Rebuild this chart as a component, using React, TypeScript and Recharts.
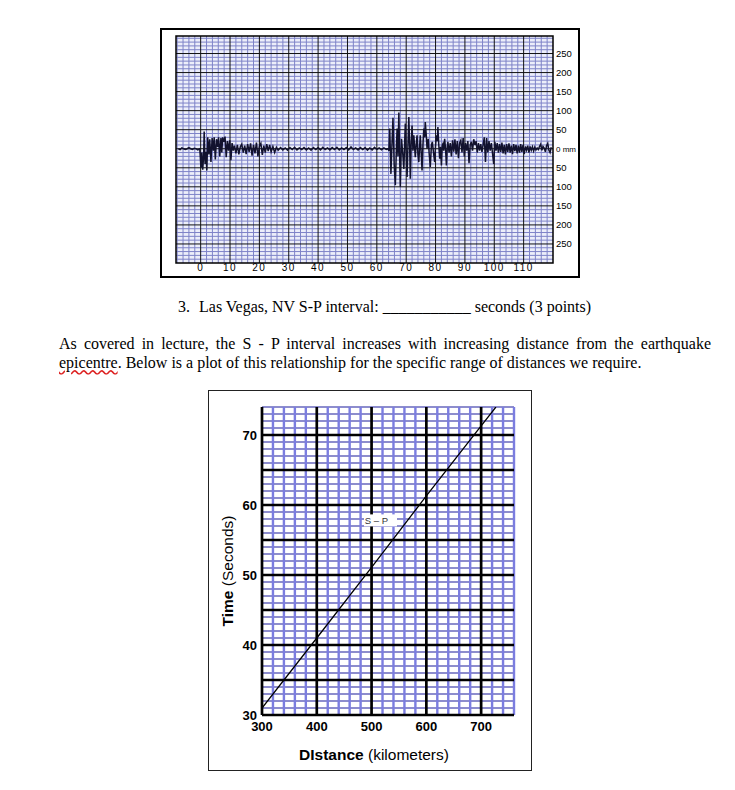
import React from 'react'
import { Label, Line, LineChart, ReferenceArea, ReferenceDot, ReferenceLine, XAxis, YAxis } from 'recharts'

// seismogram trace, [time (s), amplitude (mm)]
const preEvent = [
  [-7.6, 0], [-7.0, -2], [-6.4, 2], [-5.8, 0], [-5.2, -2], [-4.6, 0], [-4.0, 3], [-3.4, 0],
  [-2.8, -2], [-2.2, 1], [-1.6, 0], [-1.0, -3], [-0.3, 0],
]
const pWave = [
  [0.1, -50], [0.4, -10], [0.7, -55], [1.0, -20], [1.2, 45], [1.5, -40], [1.8, -8], [2.1, -57],
  [2.4, 30], [2.8, -15], [3.1, 25], [3.5, -35], [3.9, 28], [4.3, -5], [4.6, 30], [5.0, -28],
  [5.4, 25], [5.8, 5], [6.1, 30], [6.5, -20], [6.9, 28], [7.2, -10], [7.5, 30], [7.9, 18],
  [8.3, 32], [8.7, -22], [9.1, 20], [9.5, -5], [9.9, 22], [10.3, -30], [10.7, 15], [11.1, -5],
]
const pCoda = [
  [11.5, 8], [12.0, -12], [12.5, 10], [13.0, -15], [13.5, 5], [14.0, 12], [14.5, -10], [15.0, 8],
  [15.5, -14], [16.0, 12], [16.5, -8], [17.0, 14], [17.5, -18], [18.0, 10], [18.5, -12], [19.0, 16],
  [19.5, -20], [20.0, 6], [20.5, 14], [21.0, -16], [21.5, 8], [22.0, -10], [22.5, 12], [23.0, -6],
  [23.5, 10], [24.0, -8], [24.6, 6], [25.2, -10], [25.8, 4], [26.4, -4],
]
const quiet = [
  [27.2, 3], [28.0, -3], [28.8, 2], [29.6, -4], [30.4, 3], [31.2, -2], [32.0, 4], [32.8, -3],
  [33.6, 2], [34.4, -2], [35.2, 3], [36.0, -3], [36.8, 2], [37.6, -4], [38.4, 3], [39.2, -2],
  [40.0, 3], [40.8, -3], [41.6, 4], [42.4, -2], [43.2, 2], [44.0, -3], [44.8, 3], [45.6, -2],
  [46.4, 4], [47.2, -3], [48.0, 2], [48.8, -2], [49.6, 3], [50.4, -3], [51.2, 5], [52.0, -2],
  [52.8, 2], [53.6, -3], [54.4, 3], [55.2, -2], [56.0, 3], [56.8, -4], [57.6, 2], [58.4, -3],
  [59.2, 4], [60.0, -2], [60.8, 2], [61.6, -3], [62.4, 2], [63.2, -2], [63.8, 0],
]
const sWave = [
  [64.1, -5], [64.4, 53], [64.8, -66], [65.2, 20], [65.5, 81], [65.9, -40], [66.3, -96], [66.7, 10],
  [66.9, 53], [67.2, -20], [67.5, 95], [67.8, -30], [68.0, -100], [68.4, 26], [68.8, -10], [69.2, -53],
  [69.5, 20], [69.7, 66], [70.0, -10], [70.3, -74], [70.6, 10], [70.9, 83], [71.2, 0], [71.4, -79],
  [71.7, 15], [72.0, 61], [72.3, -5], [72.6, 35], [72.9, 0], [73.1, -22], [73.4, 10], [73.7, 35],
  [74.0, -15], [74.3, -35], [74.6, 10], [74.8, 35], [75.1, -10], [75.4, -57], [75.7, 10], [76.0, 53],
  [76.3, 30], [76.5, 70], [76.8, 40], [77.1, 0], [77.5, 26], [77.8, -10], [78.2, -48], [78.6, 10],
  [78.9, 18], [79.3, -10], [79.7, -35], [80.0, 10], [80.3, 35], [80.6, 20], [80.8, 57], [81.1, 10],
  [81.4, -26], [81.7, 5], [82.0, -44], [82.3, 10], [82.5, 13], [82.8, -5], [83.1, 26], [83.4, 0],
  [83.7, -44], [84.0, 5], [84.2, 18],
]
const surfaceWaves = [
  [84.6, -10], [85.0, 15], [85.4, -20], [85.8, 22], [86.2, -8], [86.6, 25], [87.0, -15], [87.4, 20],
  [87.8, -25], [88.2, 15], [88.6, 22], [89.0, -10], [89.4, 28], [89.8, -20], [90.2, 15], [90.6, -5],
  [91.0, 20], [91.4, -38], [91.8, 10], [92.2, 18], [92.6, -5], [93.0, 25], [93.4, 10], [93.8, 20],
  [94.2, -10], [94.6, 15], [95.0, -5], [95.4, 12], [95.8, -8], [96.2, 10], [96.6, 30], [97.0, -35],
  [97.4, 28], [97.8, -10], [98.2, 20], [98.6, -5], [99.0, 15], [99.4, -12], [99.8, -40], [100.2, 18],
  [100.6, -5], [101.0, 15], [101.4, -10], [101.8, 12], [102.2, -8], [102.6, 16], [103.0, -12], [103.4, 10],
  [103.8, -15], [104.2, 12], [104.6, -8], [105.0, 14], [105.4, -10], [105.8, 8], [106.2, -14], [106.6, 12],
  [107.0, -6], [107.4, 10], [107.8, -12], [108.2, 8], [108.6, -10], [109.0, 12], [109.4, -8], [109.8, 10],
  [110.2, -14], [110.6, 6], [111.0, -4], [111.4, 8], [111.8, -10], [112.2, 6], [112.6, -4], [113.0, 5],
  [113.4, -6], [113.8, 4], [114.2, -3], [114.6, 2], [115.0, -2], [115.4, 6], [115.8, 12], [116.2, -4],
  [116.6, 6], [117.0, 2], [117.4, -8], [117.8, 8], [118.2, 14], [118.6, -4], [119.0, -10], [119.4, 4],
]
const seismoTimeTicks = [0, 10, 20, 30, 40, 50, 60, 70, 80, 90, 100, 110]
const seismoAmpTicks = [250, 200, 150, 100, 50, 0, -50, -100, -150, -200, -250]

// S-P interval vs distance
const spDistance = [300, 400, 500, 600, 700, 727]
const spTime = [31, 41, 51.1, 61.3, 71.3, 74]
const distanceTicks = [300, 400, 500, 600, 700]
const timeTicks = [30, 40, 50, 60, 70]

const seismoTrace = [...preEvent, ...pWave, ...pCoda, ...quiet, ...sWave, ...surfaceWaves].map(([t, amp]) => ({ t, amp }))
const spCurve = spDistance.map((d, i) => ({ distance: d, time: spTime[i] }))

const range = (from: number, to: number, step: number) => {
  const out: number[] = []
  for (let v = from; v <= to + 1e-9; v += step) out.push(Math.round(v * 100) / 100)
  return out
}

const SANS = '"Liberation Sans", Arial, sans-serif'
const SERIF = '"Liberation Serif", "Times New Roman", serif'

const AmpTick = ({ x, y, payload }: any) => (
  <text x={x} y={y} dy="0.35em" textAnchor="start" fontFamily={SANS} fontSize={payload.value === 0 ? 8 : 9.5} fill="#000" style={{ whiteSpace: 'pre' }}>
    {payload.value === 0 ? '0 mm' : String(Math.abs(payload.value))}
  </text>
)

const Seismogram = () => {
  const minorX = range(-8, 118, 2).filter(v => v % 10 !== 0)
  const minorY = range(-300, 290, 10).filter(v => v % 50 !== 0)
  const majorY = range(-250, 250, 50)
  return (
    <div style={{ position: 'absolute', left: 160, top: 28, width: 420, height: 250, background: '#fff' }}>
      <LineChart width={420} height={250} data={seismoTrace} margin={{ top: 8, right: 2, bottom: 2, left: 16 }}>
        <XAxis type="number" dataKey="t" domain={[-8.4, 120]} allowDataOverflow ticks={seismoTimeTicks} interval={0}
          tickLine={false} axisLine={false} tickSize={0} tickMargin={1} height={13}
          tick={{ fontSize: 10, fill: '#000', fontFamily: SANS, letterSpacing: 1.5 }} />
        <YAxis type="number" orientation="right" domain={[-300, 296]} allowDataOverflow ticks={seismoAmpTicks} interval={0}
          width={25} tickLine={false} axisLine={false} tickSize={0} tickMargin={3} tick={AmpTick} />
        <ReferenceArea x1={-8.4} x2={120} y1={-300} y2={296} fill="#eceefa" fillOpacity={1} stroke="none" zIndex={-20} />
        {minorX.map(v => <ReferenceLine key={'mx' + v} x={v} stroke="#7e83c8" strokeWidth={1} zIndex={-10} />)}
        {minorY.map(v => <ReferenceLine key={'my' + v} y={v} stroke="#7e83c8" strokeWidth={1} zIndex={-10} />)}
        {seismoTimeTicks.map(v => <ReferenceLine key={'Mx' + v} x={v} stroke="#111" strokeWidth={1} zIndex={-5} />)}
        {majorY.map(v => <ReferenceLine key={'My' + v} y={v} stroke="#111" strokeWidth={1} zIndex={-5} />)}
        <ReferenceArea x1={-8.4} x2={120} y1={-300} y2={296} fill="none" stroke="#000" strokeWidth={1.5} zIndex={-4} />
        <Line type="linear" dataKey="amp" stroke="#12122e" strokeWidth={1.5} dot={false} isAnimationActive={false} />
      </LineChart>
      <div style={{ position: 'absolute', inset: 0, border: '2px solid #000', boxSizing: 'border-box', pointerEvents: 'none' }} />
    </div>
  )
}

const TimeTitle = ({ viewBox }: any) => (
  <text x={viewBox.x + 25} y={viewBox.y + viewBox.height / 2 + 10} transform={`rotate(-90 ${viewBox.x + 25} ${viewBox.y + viewBox.height / 2 + 10})`}
    textAnchor="middle" fontFamily={SANS} fontSize={15.5} fill="#000">
    <tspan fontWeight="bold">Time</tspan> (Seconds)
  </text>
)

const DistanceTitle = ({ viewBox }: any) => (
  <text x={viewBox.x + viewBox.width / 2 - 14} y={viewBox.y + viewBox.height + 25} textAnchor="middle" fontFamily={SANS} fontSize={15.5} fill="#000">
    <tspan fontWeight="bold">DIstance</tspan> (kilometers)
  </text>
)

const SPTag = ({ cx, cy }: any) => (
  <g>
    <rect x={cx - 12.5} y={cy - 6} width={33} height={12} fill="#fff" />
    <text x={cx} y={cy} textAnchor="middle" dominantBaseline="central" fontFamily={SANS} fontSize={9.5} fill="#333">S – P</text>
  </g>
)

const SPChart = () => {
  const minorX = range(320, 760, 20).filter(v => v % 100 !== 0)
  const minorY = range(31, 74, 1).filter(v => v % 5 !== 0)
  const majorY = range(30, 70, 5)
  return (
    <div style={{ position: 'absolute', left: 208, top: 390, width: 324, height: 381, background: '#fff' }}>
      <LineChart width={324} height={381} data={spCurve} margin={{ top: 17, right: 18, bottom: 36, left: 0 }}>
        <XAxis type="number" dataKey="distance" domain={[300, 760]} allowDataOverflow ticks={distanceTicks} interval={0}
          tickLine={false} axisLine={false} tickSize={0} tickMargin={7} height={20}
          tick={{ fontSize: 13, fontWeight: 'bold', fill: '#000', fontFamily: SANS }}>
          <Label content={DistanceTitle} />
        </XAxis>
        <YAxis type="number" domain={[30, 74]} allowDataOverflow ticks={timeTicks} interval={0}
          width={54} tickLine={false} axisLine={false} tickSize={0} tickMargin={5}
          tick={{ fontSize: 13, fontWeight: 'bold', fill: '#000', fontFamily: SANS }}>
          <Label content={TimeTitle} />
        </YAxis>
        {minorY.map(v => <ReferenceLine key={'my' + v} y={v} stroke="#6767bd" strokeWidth={1.5} zIndex={-10} />)}
        {minorX.map(v => <ReferenceLine key={'mx' + v} x={v} stroke="#7b7de0" strokeWidth={2.4} zIndex={-10} />)}
        {majorY.map(v => <ReferenceLine key={'My' + v} y={v} stroke="#000" strokeWidth={2.7} zIndex={-5} />)}
        {distanceTicks.map(v => <ReferenceLine key={'Mx' + v} x={v} stroke="#000" strokeWidth={2.7} zIndex={-5} />)}
        <Line type="linear" dataKey="time" stroke="#000" strokeWidth={1.3} dot={false} isAnimationActive={false} />
        <ReferenceDot x={509} y={57.8} r={0} shape={SPTag} zIndex={900} />
      </LineChart>
      <div style={{ position: 'absolute', inset: 0, border: '1px solid #222', boxSizing: 'border-box', pointerEvents: 'none' }} />
    </div>
  )
}

export default function App() {
  return (
    <div style={{ position: 'absolute', left: 0, top: 0, width: 735, height: 790, background: '#fff', fontFamily: SERIF, color: '#000' }}>
      <Seismogram />
      <div style={{ position: 'absolute', left: 178, top: 298, fontSize: 16, lineHeight: '18px', whiteSpace: 'nowrap' }}>3.</div>
      <div style={{ position: 'absolute', left: 199, top: 298, fontSize: 16, lineHeight: '18px', whiteSpace: 'nowrap' }}>
        Las Vegas, NV S-P interval: ___________ seconds (3 points)
      </div>
      <div style={{ position: 'absolute', left: 59, top: 334, width: 652, fontSize: 16, lineHeight: '19px', textAlign: 'justify' }}>
        As covered in lecture, the S - P interval increases with increasing distance from the earthquake{' '}
        <span style={{ textDecorationLine: 'underline', textDecorationStyle: 'wavy', textDecorationColor: '#d22' }}>epicentre</span>. Below is a plot of this relationship for the specific range of distances we require.
      </div>
      <SPChart />
    </div>
  )
}
